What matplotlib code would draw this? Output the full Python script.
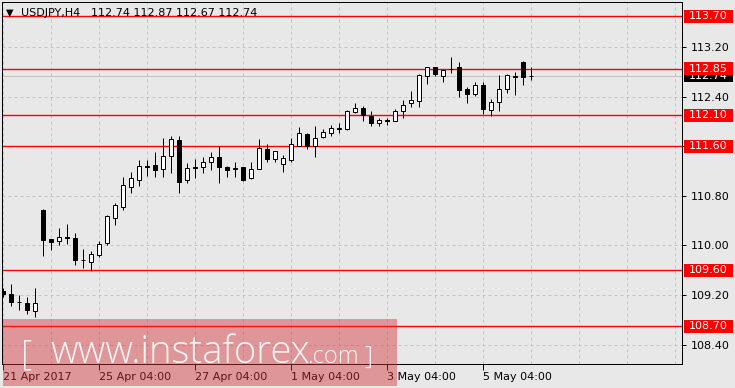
import matplotlib
matplotlib.use("Agg")
import matplotlib.pyplot as plt
from matplotlib.patches import Rectangle
import matplotlib.transforms as mtransforms

# ---------------- data ----------------
symbol = "USDJPY,H4"
opens = [109.27, 109.22, 109.09, 109.07, 108.95, 110.57, 110.10, 110.07, 110.13, 110.12,
         109.77, 109.73, 109.84, 110.04, 110.45, 110.62, 110.95, 111.06, 111.28, 111.30,
         111.23, 111.45, 111.70, 111.05, 111.26, 111.26, 111.34, 111.42, 111.26, 111.24,
         111.26, 111.08, 111.24, 111.55, 111.39, 111.32, 111.38, 111.61, 111.80, 111.60,
         111.75, 111.81, 111.88, 111.88, 112.15, 112.22, 112.08, 111.98, 112.03, 112.01,
         112.17, 112.29, 112.33, 112.74, 112.87, 112.74, 112.85, 112.87, 112.52, 112.44,
         112.59, 112.19, 112.31, 112.52, 112.74, 112.96, 112.74]
highs = [109.31, 109.38, 109.20, 109.17, 109.32, 110.59, 110.11, 110.28, 110.35, 110.20,
         109.95, 109.91, 110.07, 110.49, 110.68, 111.11, 111.19, 111.38, 111.38, 111.50,
         111.73, 111.77, 111.77, 111.33, 111.39, 111.42, 111.50, 111.61, 111.28, 111.34,
         111.27, 111.34, 111.72, 111.64, 111.52, 111.46, 111.73, 111.91, 111.82, 111.93,
         111.88, 111.95, 111.98, 112.18, 112.30, 112.25, 112.16, 112.05, 112.05, 112.20,
         112.35, 112.49, 112.76, 112.87, 112.88, 112.85, 113.04, 112.96, 112.56, 112.63,
         112.63, 112.36, 112.75, 112.76, 112.79, 112.97, 112.87]
lows = [109.17, 109.02, 108.96, 108.90, 108.85, 109.83, 109.93, 110.01, 110.03, 109.69,
        109.63, 109.58, 109.82, 110.01, 110.33, 110.57, 110.85, 110.96, 111.12, 111.10,
        111.10, 111.17, 110.85, 111.01, 111.09, 111.16, 111.21, 111.01, 111.11, 111.11,
        111.04, 111.07, 111.24, 111.34, 111.35, 111.19, 111.35, 111.61, 111.56, 111.42,
        111.73, 111.76, 111.82, 111.86, 112.14, 112.01, 111.93, 111.93, 111.95, 112.01,
        112.06, 112.23, 112.23, 112.60, 112.74, 112.64, 112.78, 112.40, 112.30, 112.41,
        112.12, 112.08, 112.17, 112.46, 112.43, 112.58, 112.67]
closes = [109.22, 109.09, 109.08, 108.96, 109.07, 110.09, 110.05, 110.14, 110.12, 109.77,
          109.76, 109.86, 110.02, 110.47, 110.65, 110.97, 111.08, 111.28, 111.27, 111.21,
          111.45, 111.72, 111.03, 111.25, 111.25, 111.34, 111.42, 111.26, 111.22, 111.25,
          111.06, 111.23, 111.57, 111.40, 111.52, 111.41, 111.63, 111.81, 111.61, 111.73,
          111.83, 111.89, 111.89, 112.16, 112.22, 112.10, 111.97, 112.02, 112.01, 112.17,
          112.27, 112.34, 112.75, 112.87, 112.76, 112.83, 112.85, 112.51, 112.44, 112.58,
          112.20, 112.31, 112.52, 112.75, 112.71, 112.72, 112.74]

level_lines = [113.70, 112.85, 112.10, 111.60, 109.60, 108.70]
current_price = 112.74
y_ticks = [113.20, 112.40, 111.60, 110.80, 110.00, 109.20, 108.40]
x_tick_bars = [0, 12, 24, 36, 48, 60]
x_tick_labels = ["21 Apr 2017", "25 Apr 04:00", "27 Apr 04:00",
                 "1 May 04:00", "3 May 04:00", "5 May 04:00"]

# ---------------- style ----------------
BG = "#e8e8e8"
GRID = "#c4c4c4"
PX = 0.72  # one pixel in points at dpi 100
W, H = 735, 388

plt.rcParams["font.family"] = ["DejaVu Sans"]
fig = plt.figure(figsize=(W / 100, H / 100), dpi=100, facecolor=BG)
ax_left, ax_right, ax_top, ax_bot = 2, 682, 2, 364
ax = fig.add_axes([ax_left / W, 1 - ax_bot / H, (ax_right - ax_left) / W, (ax_bot - ax_top) / H])
ax.set_facecolor(BG)

# pixel mapping: y = 16 + (113.70 - p) * 62 ; x = 3 + 8 * i
ppu = 62.0
ax.set_ylim(113.70 - (ax_bot - 16) / ppu, 113.70 + (16 - ax_top) / ppu)
ax.set_xlim((ax_left - 3) / 8, (ax_right - 3) / 8)

for s in ax.spines.values():
    s.set_color("black")
    s.set_linewidth(PX)

# grid
ax.set_xticks(range(0, 85, 6), minor=True)
ax.set_xticks(x_tick_bars)
ax.set_xticklabels(x_tick_labels, ha="left")
ax.set_yticks(y_ticks)
ax.set_yticklabels([f"{v:.2f}" for v in y_ticks])
ax.yaxis.tick_right()
ax.tick_params(axis="y", which="major", direction="out", length=3, width=PX,
               pad=3, labelsize=8, colors="black")
ax.tick_params(axis="x", which="major", direction="out", length=4, width=PX,
               pad=1.5, labelsize=8, colors="black")
ax.tick_params(axis="x", which="minor", length=0)
ax.grid(True, which="both", axis="x", color=GRID, lw=PX, ls=(0, (3, 3)), zorder=0)
ax.grid(True, which="major", axis="y", color=GRID, lw=PX, ls=(0, (3, 3)), zorder=0)
ax.set_axisbelow(True)

# level lines and current price line
ax.axhline(current_price, color="#c0c0c0", lw=PX, zorder=1)
for lv in level_lines:
    ax.axhline(lv, color="#ff0000", lw=1.0, zorder=2)

# candles
bw = 0.5
for i, (o, h, l, c) in enumerate(zip(opens, highs, lows, closes)):
    ax.plot([i, i], [l, h], color="black", lw=PX, zorder=3, solid_capstyle="butt")
    ax.add_patch(Rectangle((i - bw / 2, min(o, c)), bw, abs(c - o),
                           facecolor="white" if c >= o else "black",
                           edgecolor="black", lw=PX, zorder=4))

# title
tr_fig_px = mtransforms.Affine2D().scale(1 / W, -1 / H).translate(0, 1) + fig.transFigure
fig.text(6, 15.5, "\u25bc", transform=tr_fig_px, fontsize=7, va="baseline", ha="left", color="black")
fig.text(21.5, 15.5, symbol, transform=tr_fig_px, fontsize=8, va="baseline", ha="left", color="black")
fig.text(91.5, 15.5, f"{opens[-1]:.2f} {highs[-1]:.2f} {lows[-1]:.2f} {closes[-1]:.2f}",
         transform=tr_fig_px, fontsize=8, va="baseline", ha="left", color="black")

# right-hand price labels (current-price label sits beneath the 112.85 label, as in MT4)
blend = mtransforms.blended_transform_factory(fig.transFigure, ax.transData)
lab_h = 13 / ppu
def price_label(p, face, z):
    r = Rectangle((684 / W, p - lab_h / 2), 49 / W, lab_h, transform=blend,
                  facecolor=face, edgecolor="none", zorder=z, clip_on=False)
    fig.add_artist(r)
    fig.text(689 / W, p, f"{p:.2f}", transform=blend, color="white", fontsize=8,
             va="center", ha="left", zorder=z + 0.5)

price_label(current_price, "black", 2)
for lv in level_lines:
    price_label(lv, "#ff0000", 3)

# watermark
wm = Rectangle((3 / W, 1 - 386 / H), 394 / W, 67 / H, transform=fig.transFigure,
               facecolor=(210 / 255, 50 / 255, 55 / 255), alpha=0.45, edgecolor="none", zorder=5)
fig.add_artist(wm)
wfam = ["Open Sans", "DejaVu Sans"]
fig.text(21, 364, "[", transform=tr_fig_px, fontsize=25, color="white", alpha=0.9,
         family=wfam, weight="light", va="baseline", ha="left", zorder=6)
fig.text(50, 363, "www.instaforex", transform=tr_fig_px, fontsize=27.5, color="white", alpha=0.9,
         family=wfam, weight="light", va="baseline", ha="left", zorder=6)
fig.text(307, 363, ".com", transform=tr_fig_px, fontsize=17, color="white", alpha=0.9,
         family=wfam, weight="light", va="baseline", ha="left", zorder=6)
fig.text(364, 364, "]", transform=tr_fig_px, fontsize=18, color="white", alpha=0.9,
         family=wfam, weight="light", va="baseline", ha="left", zorder=6)

fig.savefig("out.png", dpi=100, facecolor=BG)
